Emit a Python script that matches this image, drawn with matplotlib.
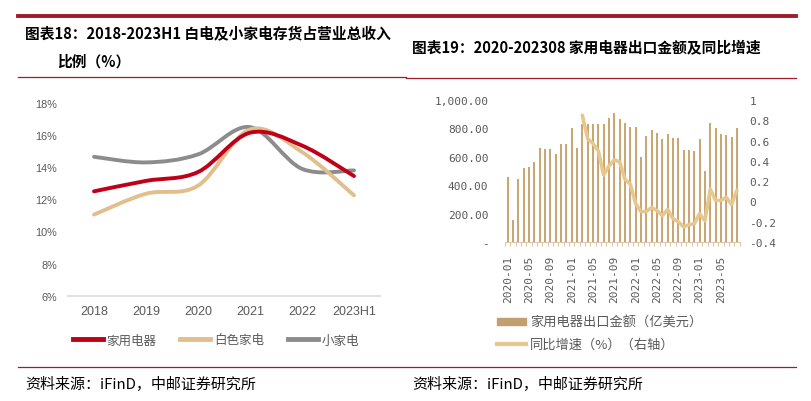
import matplotlib
matplotlib.use('Agg')
import matplotlib.pyplot as plt
from matplotlib.path import Path
from matplotlib.patches import PathPatch, Rectangle
from matplotlib.lines import Line2D
import numpy as np

plt.rcParams['font.family'] = ['Noto Sans CJK SC', 'DejaVu Sans']

W, H = 812, 402

# ---------------- data: left chart ----------------
years = ['2018', '2019', '2020', '2021', '2022', '2023H1']
home_appliance = [12.5, 13.15, 13.7, 16.15, 15.35, 13.45]
white_goods = [11.05, 12.35, 12.85, 16.35, 14.95, 12.25]
small_appliance = [14.65, 14.3, 14.8, 16.5, 13.9, 13.8]
left_yticks = [6, 8, 10, 12, 14, 16, 18]
left_series_names = ['家用电器', '白色家电', '小家电']

# ---------------- data: right chart ----------------
months = [f'{y}-{m:02d}' for y in range(2020, 2024) for m in range(1, 13)][:44]
export_value = [456, 152, 444, 519, 528, 563, 660, 654, 657, 619,
                689, 689, 806, 660, 830, 829, 829, 829, 829, 871,
                911, 864, 841, 813, 813, 600, 748, 790, 771, 724,
                764, 729, 729, 647, 647, 643, 724, 498, 836, 806,
                764, 752, 741, 806]
yoy_growth = [None] * 14 + [0.85, 0.62, 0.57, 0.50, 0.26, 0.35, 0.41, 0.39, 0.22, 0.17,
                            -0.02, -0.10, -0.10, -0.06, -0.09, -0.14, -0.08, -0.17, -0.20, -0.25,
                            -0.23, -0.22, -0.12, -0.19, 0.12, 0.01, 0.01, 0.04, -0.03, 0.11]
right_left_ticks = [0, 200, 400, 600, 800, 1000]
right_left_labels = ['-', '200.00', '400.00', '600.00', '800.00', '1,000.00']
right_right_ticks = [-0.4, -0.2, 0, 0.2, 0.4, 0.6, 0.8, 1.0]
right_right_labels = ['-0.4', '-0.2', '0', '0.2', '0.4', '0.6', '0.8', '1']
right_series_names = ['家用电器出口金额（亿美元）', '同比增速（%）（右轴）']

title_left_1 = '图表18：2018-2023H1 白电及小家电存货占营业总收入'
title_left_2 = '比例（%）'
title_right = '图表19：2020-202308 家用电器出口金额及同比增速'
source = '资料来源：iFinD，中邮证券研究所'

RED = '#C00018'
BEIGE = '#E0BF8C'
GREY = '#8C8C8C'
BAR = '#C9A672'
LINE = '#E6C88E'
TXT = '#595959'
DARKRED = '#A01C28'


def fx(px):
    return px / W


def fy(py):
    return 1 - py / H


def smooth_path(x, y):
    pts = np.column_stack([x, y]).astype(float)
    n = len(pts)
    verts = [pts[0]]
    codes = [Path.MOVETO]
    for i in range(n - 1):
        p0 = pts[i - 1] if i > 0 else pts[i]
        p1 = pts[i]
        p2 = pts[i + 1]
        p3 = pts[i + 2] if i + 2 < n else pts[i + 1]
        c1 = p1 + (p2 - p0) / 6.0
        c2 = p2 - (p3 - p1) / 6.0
        verts += [c1, c2, p2]
        codes += [Path.CURVE4] * 3
    return Path(verts, codes)


fig = plt.figure(figsize=(W / 100, H / 100), dpi=100)

# ---------------- header / footer lines & texts ----------------
fig.add_artist(Line2D([fx(18), fx(796)], [fy(17), fy(17)], color=DARKRED, lw=2.8))
fig.add_artist(Line2D([fx(18), fx(406)], [fy(78), fy(78)], color=DARKRED, lw=0.9))
fig.add_artist(Line2D([fx(406), fx(796)], [fy(79), fy(79)], color=DARKRED, lw=0.9))
fig.add_artist(Line2D([fx(18), fx(796)], [fy(368), fy(368)], color=DARKRED, lw=0.9))

fig.text(fx(25), fy(33), title_left_1, fontsize=10.6, fontweight='heavy', va='center', ha='left', color='black')
fig.text(fx(57), fy(62), title_left_2, fontsize=10.6, fontweight='heavy', va='center', ha='left', color='black')
fig.text(fx(412), fy(48), title_right, fontsize=10.6, fontweight='heavy', va='center', ha='left', color='black')
fig.text(fx(25), fy(385), source, fontsize=10.8, va='center', ha='left', color='black')
fig.text(fx(412), fy(385), source, fontsize=10.8, va='center', ha='left', color='black')

# ---------------- left chart ----------------
axL = fig.add_axes([fx(68), fy(296.7), fx(380) - fx(68), fy(104) - fy(296.7)])
xs = np.arange(len(years))
for vals, col in [(small_appliance, GREY), (white_goods, BEIGE), (home_appliance, RED)]:
    axL.add_patch(PathPatch(smooth_path(xs, vals), fill=False, edgecolor=col, lw=2.8,
                            capstyle='round', joinstyle='round'))
axL.set_xlim(-0.5, len(years) - 0.5)
axL.set_ylim(6, 18)
axL.set_yticks(left_yticks)
axL.set_yticklabels([f'{v}%' for v in left_yticks], family='Liberation Sans', fontsize=7.8, color=TXT)
axL.set_xticks(xs)
axL.set_xticklabels(years, family='Liberation Sans', fontsize=9, color=TXT)
axL.tick_params(axis='y', length=0, pad=8)
axL.tick_params(axis='x', length=0, pad=7)
for s in ['top', 'right', 'left']:
    axL.spines[s].set_visible(False)
axL.spines['bottom'].set_color('#D9D9D9')
axL.spines['bottom'].set_linewidth(1.2)

handlesL = [Line2D([], [], color=c, lw=3.5) for c in [RED, BEIGE, GREY]]
fig.legend(handlesL, left_series_names, loc='center', bbox_to_anchor=(fx(216), fy(341)),
           ncol=3, frameon=False, fontsize=9, handlelength=2.4, handletextpad=0.3,
           columnspacing=1.9, labelcolor=TXT)

# ---------------- right chart ----------------
axR = fig.add_axes([fx(505), fy(243), fx(739.6) - fx(505), fy(101) - fy(243)])
xi = np.arange(len(months))
axR.bar(xi, export_value, width=0.36, color=BAR, zorder=2)
axR.set_xlim(-0.5, len(months) - 0.5)
axR.set_ylim(0, 1000)
axR.set_yticks(right_left_ticks)
axR.set_yticklabels(right_left_labels, family='DejaVu Sans Mono', fontsize=8, color=TXT)
axR.set_xticks(xi[::4])
axR.set_xticklabels([months[i] for i in xi[::4]], rotation=90, family='DejaVu Sans Mono',
                    fontsize=8, color=TXT)
axR.set_xticks(np.arange(-0.5, len(months)), minor=True)
axR.tick_params(axis='x', which='major', length=0, pad=9)
axR.tick_params(axis='x', which='minor', length=3, color='#D9C9A8', width=0.8)
axR.tick_params(axis='y', length=0, pad=12)
for s in ['top', 'right', 'left']:
    axR.spines[s].set_visible(False)
axR.spines['bottom'].set_color('#D9C9A8')
axR.spines['bottom'].set_linewidth(0.8)

ax2 = axR.twinx()
yy = np.array([np.nan if v is None else v for v in yoy_growth], dtype=float)
ax2.plot(xi, yy, color=LINE, lw=2.6, solid_joinstyle='round', solid_capstyle='round', zorder=3)
ax2.set_ylim(-0.4, 1.0)
ax2.set_yticks(right_right_ticks)
ax2.set_yticklabels(right_right_labels, family='DejaVu Sans Mono', fontsize=8, color=TXT)
ax2.tick_params(axis='y', length=0, pad=7)
for s in ['top', 'right', 'left', 'bottom']:
    ax2.spines[s].set_visible(False)

handlesR = [Rectangle((0, 0), 1, 1, color='#C0A070'), Line2D([], [], color=LINE, lw=3)]
fig.legend(handlesR, right_series_names, loc='center left', bbox_to_anchor=(fx(485), fy(334.5)),
           ncol=1, frameon=False, fontsize=9.5, handlelength=2.2, handleheight=0.45,
           handletextpad=0.3, labelspacing=0.7, labelcolor=TXT)

fig.savefig('out.png', dpi=100)
